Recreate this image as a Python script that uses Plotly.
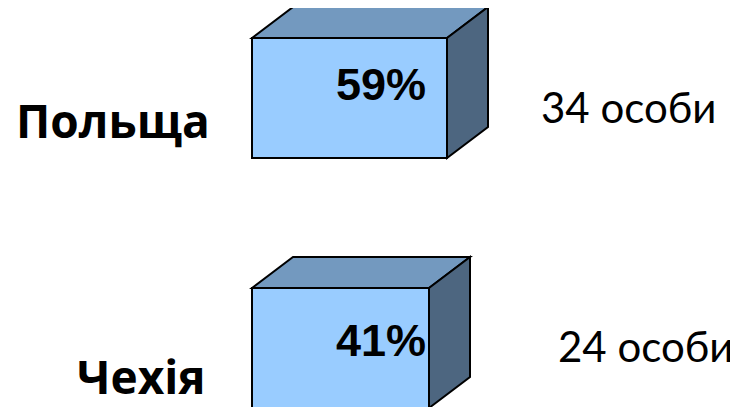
import plotly.graph_objects as go

# ---- data ----
countries = ["Польща", "Чехія"]
percents = [59, 41]
counts = [34, 24]
count_labels = [f"{c} особи" for c in counts]

# ---- layout constants (pixels) ----
W, H = 738, 407
OFF = 8  # page body margin
box_left = 252
box_widths = [195, 177]
box_tops = [38, 288]
box_height = 120
depth_dx, depth_dy = 41, 31

FRONT = "#99CCFF"
TOP = "#7399BF"
SIDE = "#4D6680"

fig = go.Figure()
fig.add_trace(go.Scatter(x=[OFF, W + OFF], y=[OFF, H + OFF], mode="markers",
                         marker=dict(opacity=0), hoverinfo="skip", showlegend=False))

shapes = []
def poly(pts, color):
    d = "M " + " L ".join(f"{x},{y}" for x, y in pts) + " Z"
    return dict(type="path", path=d, fillcolor=color,
                line=dict(color="black", width=2), layer="above")

for i, country in enumerate(countries):
    x0 = box_left
    x1 = box_left + box_widths[i]
    y0 = box_tops[i]
    y1 = y0 + box_height
    shapes.append(poly([(x0, y0), (x0 + depth_dx, y0 - depth_dy), (x1 + depth_dx, y0 - depth_dy), (x1, y0)], TOP))
    shapes.append(poly([(x1, y0), (x1 + depth_dx, y0 - depth_dy), (x1 + depth_dx, y1 - depth_dy), (x1, y1)], SIDE))
    shapes.append(poly([(x0, y0), (x1, y0), (x1, y1), (x0, y1)], FRONT))

annotations = []
pct_y = [84, 340]
name_pos = [(212, 120), (208, 376)]
cnt_pos = [(539, 107), (556, 346)]
for i in range(len(countries)):
    annotations.append(dict(x=381, y=pct_y[i], text=f"<b>{percents[i]}%</b>", showarrow=False,
                            xanchor="center", yanchor="middle",
                            font=dict(family="Liberation Sans, Arial", size=45, color="black")))
    annotations.append(dict(x=name_pos[i][0], y=name_pos[i][1], text=f"<b>{countries[i]}</b>", showarrow=False,
                            xanchor="right", yanchor="middle",
                            font=dict(family="Open Sans", size=46, color="black")))
    annotations.append(dict(x=cnt_pos[i][0], y=cnt_pos[i][1], text=count_labels[i], showarrow=False,
                            xanchor="left", yanchor="middle",
                            font=dict(family="Lato", size=42, color="black")))

fig.update_layout(
    width=W, height=H, margin=dict(l=0, r=0, t=0, b=0),
    paper_bgcolor="white", plot_bgcolor="white",
    xaxis=dict(range=[OFF, W + OFF], visible=False, fixedrange=True),
    yaxis=dict(range=[H + OFF, OFF], visible=False, fixedrange=True),
    shapes=shapes, annotations=annotations, showlegend=False,
)
fig.write_html("out.html")
